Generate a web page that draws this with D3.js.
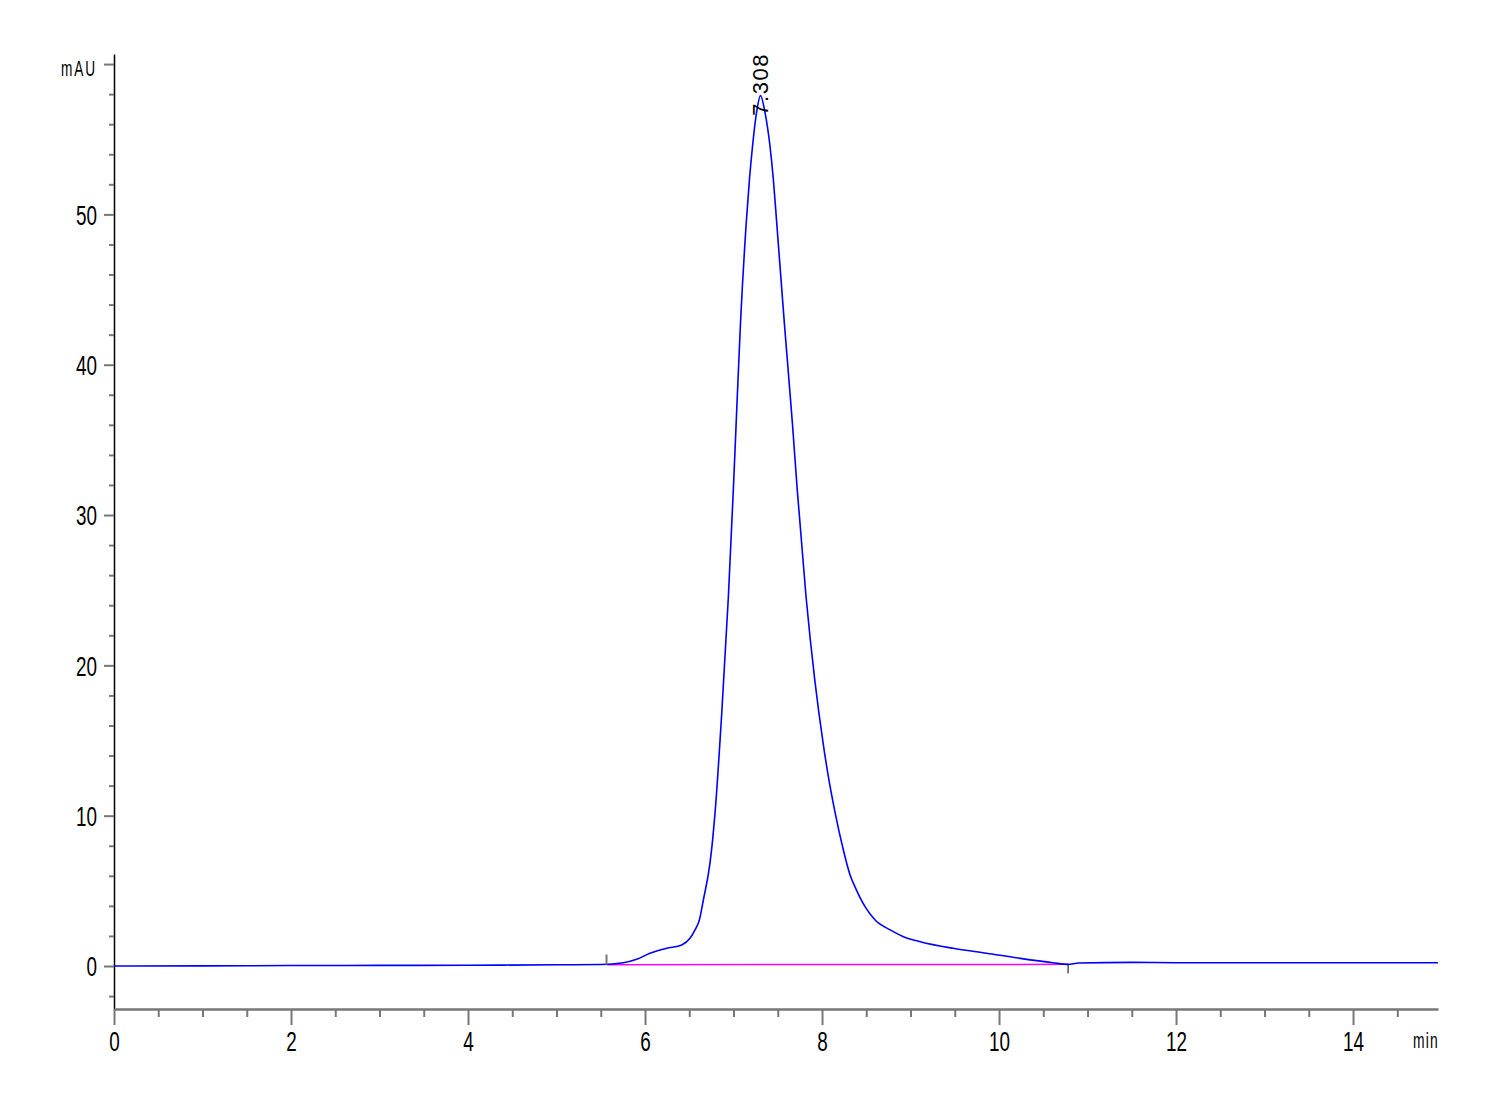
<!DOCTYPE html>
<html>
<head>
<meta charset="utf-8">
<script src="https://cdn.jsdelivr.net/npm/d3@7"></script>
<style>
html,body{margin:0;padding:0;background:#fff;}
svg{display:block;}
</style>
</head>
<body>
<svg id="chart" width="1500" height="1100"></svg>
<script>
// ---- data ----
const timeMin = [0, 1, 2, 3, 4, 5, 5.5, 5.755, 5.906, 6.056, 6.245, 6.415, 6.508, 6.565, 6.614, 6.659, 6.734, 6.764, 6.791, 6.867, 6.942, 6.998, 7.03, 7.079, 7.144, 7.18, 7.215, 7.26, 7.305, 7.356, 7.412, 7.45, 7.488, 7.574, 7.665, 7.72, 7.819, 7.918, 7.965, 8.018, 8.078, 8.149, 8.232, 8.323, 8.37, 8.486, 8.6, 8.77, 8.92, 9.11, 9.48, 9.86, 10.24, 10.61, 10.78, 10.9, 11.5, 12, 13, 14, 14.96];
const signalMAU = [0, 0.01, 0.03, 0.04, 0.05, 0.08, 0.1, 0.22, 0.45, 0.85, 1.18, 1.4, 1.84, 2.4, 3.06, 4.39, 6.84, 8.39, 10.17, 16.82, 24.58, 31.69, 36.13, 42.79, 49.45, 52.33, 54.55, 56.77, 57.9, 56.77, 54.55, 52.33, 49.45, 42.8, 36.13, 31.69, 24.6, 19.04, 16.82, 14.6, 12.38, 10.17, 7.94, 5.95, 5.3, 3.95, 3.06, 2.4, 1.95, 1.62, 1.18, 0.85, 0.51, 0.22, 0.11, 0.2, 0.24, 0.22, 0.22, 0.22, 0.22];
const baselineTime = [5.57, 10.78];
const baselineValue = [0.09, 0.11];
const peakTime = [7.308];
const peakValue = [57.9];
const peakLabels = ["7.308"];
const markerStart = [5.565];
const markerEnd = [10.78];
const xTickValues = [0, 2, 4, 6, 8, 10, 12, 14];
const yTickValues = [0, 10, 20, 30, 40, 50];
const yUnit = "mAU";
const xUnit = "min";

// ---- scales ----
const svg = d3.select("#chart");
const x = d3.scaleLinear().domain([0, 14.96]).range([114, 1438]);
const y = d3.scaleLinear().domain([-2.86, 60.67]).range([1009, 54]);

const FONT = "'Liberation Sans', Arial, sans-serif";
const SX = 0.7;

// ---- y axis ----
const yAxis = d3.axisLeft(y)
  .tickValues(d3.range(-2, 61, 2))
  .tickSizeOuter(0)
  .tickFormat(d => "");
const gy = svg.append("g").attr("transform", `translate(${x(0)},0)`).call(yAxis);
gy.select(".domain").attr("stroke", "#000").attr("stroke-width", 1.5);
gy.selectAll(".tick line")
  .attr("stroke", "#777").attr("stroke-width", 2)
  .attr("x2", d => (d % 10 === 0 ? -10 : -5));
gy.selectAll(".tick text").remove();
gy.selectAll(".tick").filter(d => yTickValues.includes(d))
  .append("text")
  .attr("transform", "translate(-17,0) scale(" + SX + ",1)")
  .attr("text-anchor", "end")
  .attr("dy", "0.36em")
  .attr("font-family", FONT)
  .attr("font-size", 27)
  .attr("fill", "#000")
  .text(d => d);
svg.append("text")
  .attr("transform", `translate(${x(0) - 17},${y(60) + 12}) scale(0.62,1)`)
  .attr("text-anchor", "end")
  .attr("font-family", FONT)
  .attr("font-size", 22)
  .attr("letter-spacing", 3)
  .attr("fill", "#000")
  .text(yUnit);

// ---- x axis ----
const xAxis = d3.axisBottom(x)
  .tickValues(d3.range(0, 14.96, 0.5))
  .tickSizeOuter(0)
  .tickFormat(d => "");
const gx = svg.append("g").attr("transform", `translate(0,${y(-2.86)})`).call(xAxis);
gx.select(".domain").attr("stroke", "#777").attr("stroke-width", 2.5);
gx.selectAll(".tick line")
  .attr("stroke", "#777").attr("stroke-width", 2)
  .attr("y2", d => (d % 2 === 0 ? 16 : 8));
gx.selectAll(".tick text").remove();
gx.selectAll(".tick").filter(d => xTickValues.includes(d))
  .append("text")
  .attr("transform", "translate(0,42) scale(" + SX + ",1)")
  .attr("text-anchor", "middle")
  .attr("font-family", FONT)
  .attr("font-size", 27)
  .attr("fill", "#000")
  .text(d => d);
svg.append("text")
  .attr("transform", `translate(${x(14.96) + 1},${y(-2.86) + 39}) scale(0.63,1)`)
  .attr("text-anchor", "end")
  .attr("font-family", FONT)
  .attr("font-size", 22)
  .attr("letter-spacing", 2)
  .attr("fill", "#000")
  .text(xUnit);

// ---- baseline (integration) ----
const baseData = baselineTime.map((t, i) => ({t, v: baselineValue[i]}));
svg.append("path")
  .datum(baseData)
  .attr("fill", "none")
  .attr("stroke", "#ff00ff")
  .attr("stroke-width", 1.5)
  .attr("d", d3.line().x(d => x(d.t)).y(d => y(d.v)));

// ---- signal ----
const data = timeMin.map((t, i) => ({t, v: signalMAU[i]}));
svg.append("path")
  .datum(data)
  .attr("fill", "none")
  .attr("stroke", "#0000ff")
  .attr("stroke-width", 1.6)
  .attr("d", d3.line().curve(d3.curveMonotoneX).x(d => x(d.t)).y(d => y(d.v)));

// ---- peak start/end markers ----
markerStart.forEach(t => {
  svg.append("line")
    .attr("x1", x(t)).attr("x2", x(t))
    .attr("y1", y(0.1)).attr("y2", y(0.1) - 10)
    .attr("stroke", "#777").attr("stroke-width", 2);
});
markerEnd.forEach(t => {
  svg.append("line")
    .attr("x1", x(t)).attr("x2", x(t))
    .attr("y1", y(0.1)).attr("y2", y(0.1) + 9)
    .attr("stroke", "#000").attr("stroke-width", 1);
});

// ---- peak label ----
peakTime.forEach((t, i) => {
  svg.append("text")
    .attr("transform", `translate(${x(t) + 7},${y(peakValue[i]) + 20}) rotate(-90)`)
    .attr("text-anchor", "start")
    .attr("font-family", FONT)
    .attr("font-size", 22)
    .attr("letter-spacing", 1.5)
    .attr("fill", "#000")
    .text(peakLabels[i]);
});
</script>
</body>
</html>
